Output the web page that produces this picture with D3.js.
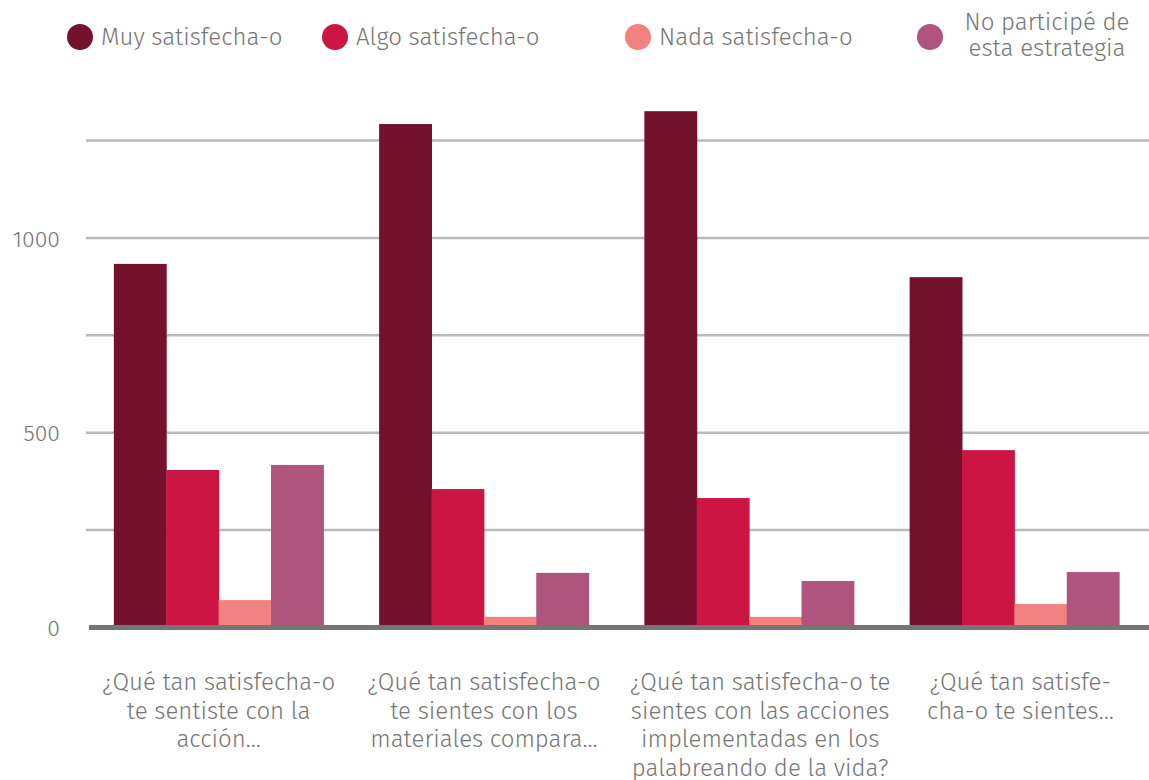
<!DOCTYPE html>
<meta charset="utf-8">
<head>
<style>
body { margin: 0; background: #fff; }
text { font-family: "Fira Sans", Roboto, "Noto Sans", sans-serif; font-weight: 300; fill: #757575; }
.grid line { stroke: #b9b9b9; stroke-width: 2.5px; }
.grid path, .yaxis path { display: none; }
</style>
</head>
<body>
<script src="https://d3js.org/d3.v7.min.js"></script>
<script>

// data
var categories = [
  ["¿Qué tan satisfecha-o", "te sentiste con la", "acción…"],
  ["¿Qué tan satisfecha-o", "te sientes con los", "materiales compara…"],
  ["¿Qué tan satisfecha-o te", "sientes con las acciones", "implementadas en los", "palabreando de la vida?"],
  ["¿Qué tan satisfe-", "cha-o te sientes…"]
];
var seriesNames = ["Muy satisfecha-o", "Algo satisfecha-o", "Nada satisfecha-o", "No participé de esta estrategia"];
var muy    = [932, 1291, 1324, 898];
var algo   = [403, 354, 331, 454];
var nada   = [69, 26, 26, 59];
var noPart = [416, 139, 118, 141];
var gridTicks  = [250, 500, 750, 1000, 1250];
var labelTicks = [0, 500, 1000];

var colors = ["#74122E", "#CD1543", "#F08380", "#AF557D"];
var values = [muy, algo, nada, noPart];

var W = 1149, H = 780;
var svg = d3.select("body").append("svg").attr("width", W).attr("height", H);

// scales
var x0 = d3.scaleBand().domain(d3.range(categories.length))
    .range([86, 1147]).paddingInner(0.21).paddingOuter(0.105);
var x1 = d3.scaleBand().domain(d3.range(seriesNames.length))
    .range([0, x0.bandwidth()]);
var y = d3.scaleLinear().domain([0, 1250]).range([627, 140]);

// gridlines
svg.append("g")
    .attr("class", "grid")
    .attr("transform", "translate(86,0)")
    .call(d3.axisRight(y).tickValues(gridTicks).tickSize(W - 86).tickFormat(""));

// y labels
svg.append("g")
    .attr("class", "yaxis")
    .attr("transform", "translate(60,0)")
    .attr("font-family", null)
    .call(d3.axisLeft(y).tickValues(labelTicks).tickSize(0).tickPadding(0).tickFormat(d3.format("d")))
    .selectAll("text")
    .style("font-size", "23px")
    .attr("dy", "0.38em")
    .style("fill", "#757575");

// bars
var groups = svg.selectAll(".grp")
    .data(categories)
  .enter().append("g")
    .attr("transform", function(d, i) { return "translate(" + x0(i) + ",0)"; });

groups.selectAll("rect")
    .data(function(d, i) { return values.map(function(v, s) { return {s: s, v: v[i]}; }); })
  .enter().append("rect")
    .attr("x", function(d) { return x1(d.s); })
    .attr("width", x1.bandwidth() + 0.5)
    .attr("y", function(d) { return y(d.v); })
    .attr("height", function(d) { return y(0) - y(d.v); })
    .style("fill", function(d) { return colors[d.s]; });

// baseline
svg.append("line")
    .attr("x1", 89).attr("x2", W)
    .attr("y1", y(0) + 0.5).attr("y2", y(0) + 0.5)
    .style("stroke", "#757575").style("stroke-width", 5);

// category labels (the last two sit a little right of their group centre)
var labelShift = [0, 0, 11, 6];
groups.append("text")
    .attr("text-anchor", "middle")
    .style("font-size", "24px")
    .each(function(d, i) {
      d3.select(this).selectAll("tspan")
          .data(d)
        .enter().append("tspan")
          .attr("x", x0.bandwidth() / 2 + labelShift[i])
          .attr("y", function(t, k) { return 690 + k * 28.5; })
          .text(function(t) { return t; });
    });

// legend
var legendX = [80, 335, 638, 930];
var leg = svg.selectAll(".leg")
    .data(seriesNames)
  .enter().append("g")
    .attr("transform", function(d, i) { return "translate(" + legendX[i] + ",37)"; });

leg.append("circle").attr("r", 13).style("fill", function(d, i) { return colors[i]; });

leg.filter(function(d, i) { return i < 3; })
  .append("text")
    .attr("x", 21).attr("y", 0).attr("dy", "0.35em")
    .style("font-size", "24px")
    .text(function(d) { return d; });

var last = leg.filter(function(d, i) { return i == 3; })
  .append("text")
    .attr("text-anchor", "middle")
    .style("font-size", "24px");
last.append("tspan").attr("x", 117).attr("y", -7).text("No participé de");
last.append("tspan").attr("x", 117).attr("y", 19).text("esta estrategia");

</script>
</body>
